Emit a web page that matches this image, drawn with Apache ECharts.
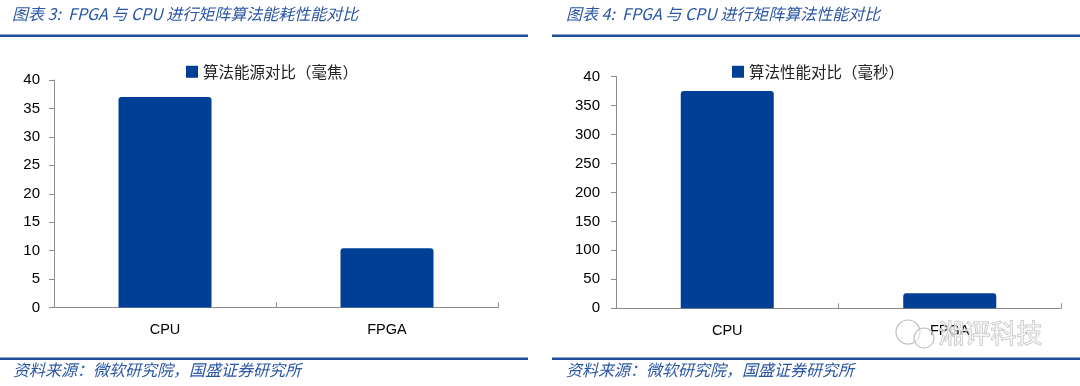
<!DOCTYPE html>
<html><head><meta charset="utf-8">
<script src="https://cdn.jsdelivr.net/npm/echarts@6/dist/echarts.min.js"></script>
<style>html,body{margin:0;padding:0;background:#fff}#c{width:1080px;height:386px}</style>
</head><body><div id="c"></div>
<script>
const categories = ['CPU', 'FPGA'];
const energyValues = [37, 10.4];      // 算法能源对比（毫焦）
const perfValues = [375, 26];         // 算法性能对比（毫秒）
const leftTickLabels = ['0','5','10','15','20','25','30','35','40'];
const rightTickLabels = ['0','50','100','150','200','250','300','350','40'];
const leftSeriesName = '算法能源对比（毫焦）';
const rightSeriesName = '算法性能对比（毫秒）';
const leftTitle = '图表 3:  FPGA 与 CPU 进行矩阵算法能耗性能对比';
const rightTitle = '图表 4:  FPGA 与 CPU 进行矩阵算法性能对比';
const sourceText = '资料来源：微软研究院，国盛证券研究所';

const BLUE = '#003f96';
const AXIS = '#8c8c8c';
const FONT = '"Liberation Sans", Arial, sans-serif';
const CJK = '"Noto Sans CJK SC", sans-serif';

const chart = echarts.init(document.getElementById('c'));

function xAxis(i) {
  return {
    type: 'category', gridIndex: i, data: categories,
    axisLine: {lineStyle: {color: AXIS, width: 1}},
    axisTick: {show: true, inside: true, length: 5, lineStyle: {color: AXIS}},
    axisLabel: {color: '#000', fontFamily: FONT, fontSize: 14.5, margin: 15}
  };
}
function yAxis(i, max, interval, labels, margin) {
  return {
    type: 'value', gridIndex: i, min: 0, max: max, interval: interval,
    splitLine: {show: false},
    axisLine: {show: true, lineStyle: {color: AXIS, width: 1}},
    axisTick: {show: true, length: 5, lineStyle: {color: AXIS}},
    axisLabel: {color: '#000', fontFamily: FONT, fontSize: 15, margin: margin,
      formatter: function (v) { return labels[Math.round(v / interval)]; }}
  };
}

chart.setOption({
  animation: false,
  backgroundColor: '#fff',
  grid: [
    {left: 54, top: 80, width: 444, height: 227.5},
    {left: 616, top: 76.5, width: 445, height: 231.8}
  ],
  legend: [
    {data: [leftSeriesName], left: 181, top: 59, itemWidth: 12, itemHeight: 12, icon: 'rect',
     textStyle: {fontFamily: CJK, fontSize: 15.5, color: '#222'}},
    {data: [rightSeriesName], left: 727, top: 59, itemWidth: 12, itemHeight: 12, icon: 'rect',
     textStyle: {fontFamily: CJK, fontSize: 15.5, color: '#222'}}
  ],
  xAxis: [xAxis(0), xAxis(1)],
  yAxis: [yAxis(0, 40, 5, leftTickLabels, 14), yAxis(1, 400, 50, rightTickLabels, 16)],
  series: [
    {name: leftSeriesName, type: 'bar', xAxisIndex: 0, yAxisIndex: 0, data: energyValues,
     barWidth: 93, itemStyle: {color: BLUE, borderRadius: [3, 3, 0, 0]}},
    {name: rightSeriesName, type: 'bar', xAxisIndex: 1, yAxisIndex: 1, data: perfValues,
     barWidth: 93, itemStyle: {color: BLUE, borderRadius: [3, 3, 0, 0]}}
  ],
  graphic: [
    {type: 'text', left: 12, top: 6, style: {text: leftTitle, fill: '#2a56a4',
      font: 'italic 16px "Noto Sans CJK SC", sans-serif'}},
    {type: 'text', left: 566, top: 6, style: {text: rightTitle, fill: '#2a56a4',
      font: 'italic 16px "Noto Sans CJK SC", sans-serif'}},
    {type: 'rect', shape: {x: 0, y: 34.5, width: 528, height: 2.5}, style: {fill: '#1f4e9c'}},
    {type: 'rect', shape: {x: 552, y: 34.5, width: 528, height: 2.5}, style: {fill: '#1f4e9c'}},
    {type: 'rect', shape: {x: 0, y: 357.5, width: 528, height: 2.5}, style: {fill: '#1f4e9c'}},
    {type: 'rect', shape: {x: 552, y: 357.5, width: 528, height: 2.5}, style: {fill: '#1f4e9c'}},
    {type: 'text', left: 13, top: 362, style: {text: sourceText, fill: '#2a56a4',
      font: 'italic 16px "Noto Sans CJK SC", sans-serif'}},
    {type: 'text', left: 566, top: 362, style: {text: sourceText, fill: '#2a56a4',
      font: 'italic 16px "Noto Sans CJK SC", sans-serif'}},
    {type: 'text', left: 938, top: 320, z: 100, style: {text: '湘评科技', fill: 'rgba(255,255,255,0.6)',
      stroke: '#b8b8b8', lineWidth: 1, font: '26px "Noto Sans CJK SC", sans-serif'}},
    {type: 'circle', z: 100, shape: {cx: 908, cy: 332, r: 12}, style: {fill: 'rgba(255,255,255,0.5)', stroke: '#c0c0c0', lineWidth: 1.2}},
    {type: 'circle', z: 100, shape: {cx: 924, cy: 338, r: 10}, style: {fill: 'rgba(255,255,255,0.5)', stroke: '#c0c0c0', lineWidth: 1.2}}
  ]
});
</script></body></html>
